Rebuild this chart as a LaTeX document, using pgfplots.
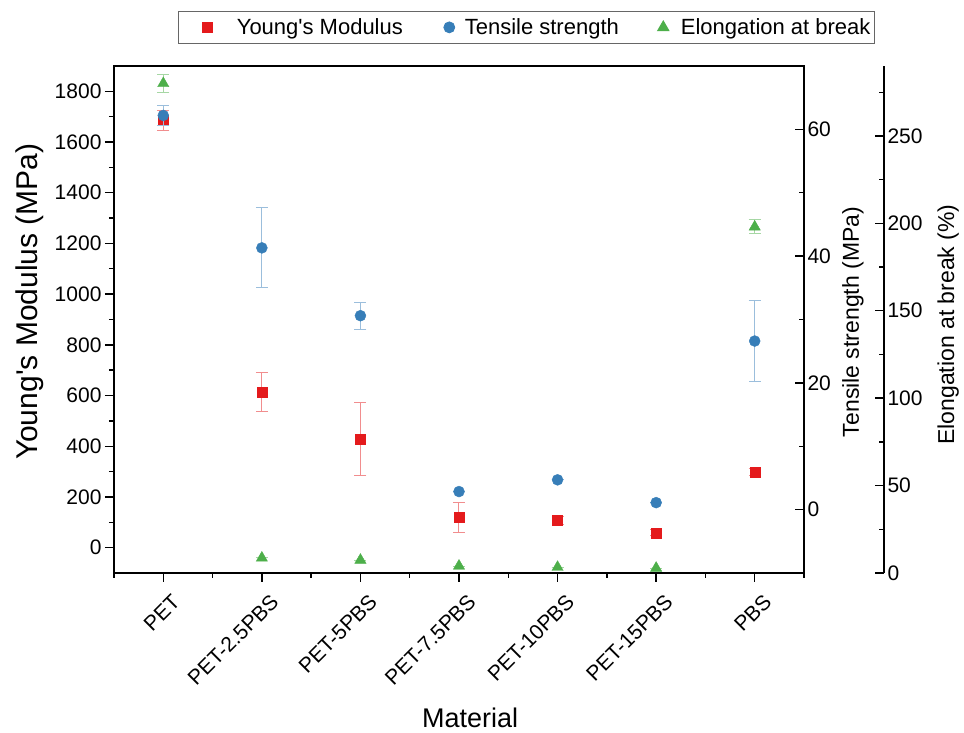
\documentclass[border=0pt]{standalone}
\usepackage{fontspec}
\setmainfont{Liberation Sans}[Ligatures=TeXOff]
\usepackage{pgfplots}
\usepackage{pgfplotstable}
\pgfplotsset{compat=1.18}

\definecolor{cym}{HTML}{E41A1C}
\definecolor{cts}{HTML}{377EB8}
\definecolor{cel}{HTML}{4DAF4A}

% x = material index, y = mean, e = error
\pgfplotstableread{
x y e
0 1685 40
1 614 75
2 429 145
3 120 60
4 108 15
5 58 12
6 298 15
}\youngdata
\pgfplotstableread{
x y e
0 62.2 1.6
1 41.3 6.3
2 30.6 2.1
3 2.85 0
4 4.7 0
5 1.1 0
6 26.6 6.4
}\tensiledata
\pgfplotstableread{
x y e
0 280 5
1 8.6 0
2 7.4 0
3 4.0 0
4 3.3 0
5 2.8 0
6 198 4
}\elongdata

\pgfplotsset{
  base/.style={
    width=690pt, height=507pt, scale only axis,
    xmin=-0.5, xmax=6.5, clip=false,
    axis line style={line width=1.4pt},
    major tick length=9pt, minor tick length=5pt,
    tick style={black, line width=1.4pt},
    tick label style={font=\fontsize{21}{24}\selectfont},
    /pgf/number format/assume math mode=true,
    /pgf/number format/1000 sep={},
  },
  pts/.style n args={2}{only marks, mark=#1, color=#2,
    mark options={solid},
    error bars/y dir=both, error bars/y explicit,
    error bars/error bar style={line width=1pt, #2!50},
    error bars/error mark options={rotate=90, line width=1pt, mark size=6pt, #2!50}},
}

\begin{document}
\begin{tikzpicture}
% Young's modulus, left axis
\begin{axis}[base,
  ymin=-100, ymax=1900,
  ytick={0,200,...,1800}, minor ytick={100,300,...,1700},
  xtick={0,...,6}, minor xtick={-0.5,0.5,...,6.5},
  xticklabels={PET,PET-2.5PBS,PET-5PBS,PET-7.5PBS,PET-10PBS,PET-15PBS,PBS},
  xtick pos=bottom, ytick pos=left, tick align=outside,
  xticklabel style={xshift=13pt, yshift=-16pt, rotate=45, anchor=east, inner sep=0pt},
  xlabel={Material}, ylabel={Young's Modulus (MPa)},
  every axis x label/.style={at={(rel axis cs:0.516,-0.286)}, anchor=center, font=\fontsize{27}{32}\selectfont},
  every axis y label/.style={at={(rel axis cs:-0.122,0.535)}, rotate=90, anchor=center, font=\fontsize{30}{36}\selectfont},
  legend columns=3,
  legend style={at={(rel axis cs:0.0928,1.108)}, anchor=north west,
    draw=black!60, line width=0.8pt, font=\fontsize{22}{27}\selectfont,
    inner xsep=4pt, inner ysep=5pt,
    nodes={inner xsep=0pt},
    /tikz/column 1/.style={column sep=24pt},
    /tikz/column 2/.style={column sep=21pt},
    /tikz/column 3/.style={column sep=10pt},
    /tikz/column 4/.style={column sep=19pt},
    /tikz/column 5/.style={column sep=12pt}},
  legend image code/.code={\path (0pt,0pt); \draw[#1] plot coordinates {(25pt,0pt)};},
]
\addlegendimage{only marks, mark=square*, cym, mark size=5pt}
\addlegendentry{Young's Modulus}
\addlegendimage{only marks, mark=*, cts, mark size=5.5pt}
\addlegendentry{Tensile strength}
\addlegendimage{only marks, mark=triangle*, cel, mark size=6.5pt}
\addlegendentry{Elongation at break}
\addplot[pts={square*}{cym}, mark size=5pt] table[x=x, y=y, y error=e]{\youngdata};
\end{axis}
% Tensile strength, right axis
\begin{axis}[base,
  hide x axis, axis y line*=right,
  ymin=-10, ymax=70,
  ytick={0,20,40,60}, minor ytick={10,30,50},
  tick align=inside,
  ylabel={Tensile strength (MPa)},
  every axis y label/.style={at={(rel axis cs:1.071,0.495)}, rotate=90, anchor=center, font=\fontsize{23}{28}\selectfont},
]
\addplot[pts={*}{cts}, mark size=5.5pt] table[x=x, y=y, y error=e]{\tensiledata};
\end{axis}
% Elongation at break, offset right axis
\begin{axis}[base,
  hide x axis, axis y line*=right, axis y line shift=80pt,
  ymin=0, ymax=290,
  ytick={0,50,...,250}, minor ytick={25,75,...,275},
  tick align=inside,
  ylabel={Elongation at break (\%)},
  every axis y label/.style={at={(rel axis cs:1.209,0.49)}, rotate=90, anchor=center, font=\fontsize{23}{28}\selectfont},
]
\addplot[pts={triangle*}{cel}, mark size=6.5pt] table[x=x, y=y, y error=e]{\elongdata};
\end{axis}
\path (-114pt,-160pt) rectangle (850pt,573pt);
\end{tikzpicture}
\end{document}
